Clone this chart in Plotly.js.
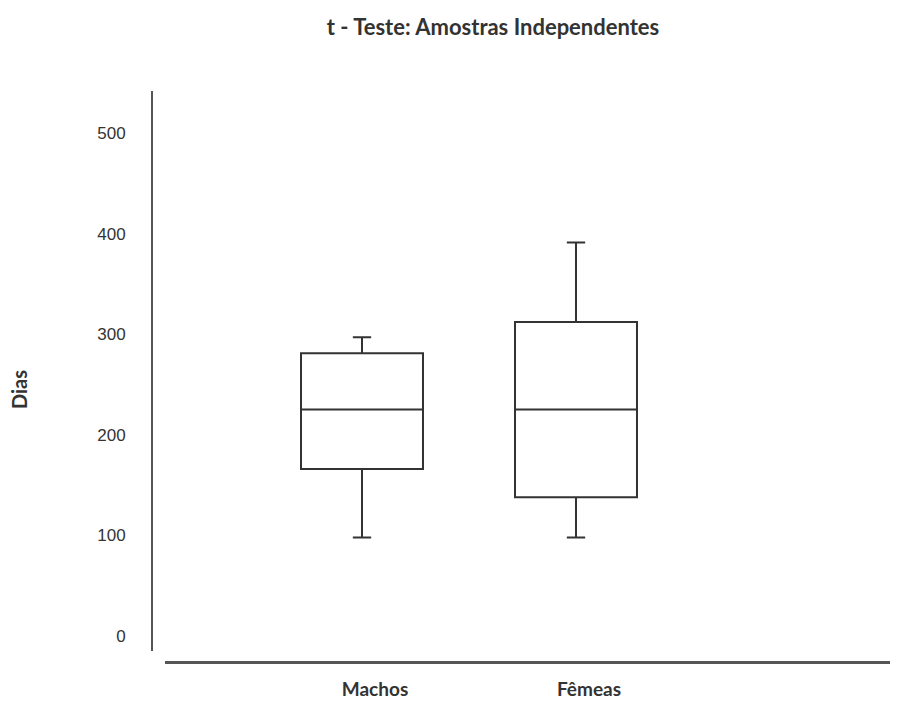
<!DOCTYPE html>
<html>
<head>
<meta charset="utf-8">
<script src="https://cdn.plot.ly/plotly-3.0.1.min.js"></script>
<style>html,body{margin:0;padding:0;background:#fff;}#chart{width:905px;height:702px;}</style>
</head>
<body>
<div id="chart"></div>
<script>
const categories = ['Machos', 'Fêmeas'];
const lowerFence = [98, 98];
const q1 = [166, 138];
const median = [225, 225];
const q3 = [281, 312];
const upperFence = [297, 391];
const yTickVals = [0, 100, 200, 300, 400, 500];
const yTickText = ['0', '100', '200', '300', '400', '500'];

const trace = {
  type: 'box',
  x: categories,
  q1: q1,
  median: median,
  q3: q3,
  lowerfence: lowerFence,
  upperfence: upperFence,
  width: 0.57,
  whiskerwidth: 0.15,
  fillcolor: 'rgba(255,255,255,0)',
  line: {color: '#333333', width: 2},
  hoverinfo: 'skip',
  showlegend: false
};

const layout = {
  width: 905,
  height: 702,
  paper_bgcolor: '#ffffff',
  plot_bgcolor: '#ffffff',
  margin: {l: 152, r: 15, t: 91, b: 40},
  title: {
    text: 't - Teste: Amostras Independentes',
    x: 493 / 905, xref: 'container', xanchor: 'center',
    y: 1 - 27 / 702, yref: 'container', yanchor: 'middle',
    font: {family: 'Lato, Open Sans, sans-serif', size: 22, color: '#333333', weight: 'bold'}
  },
  xaxis: {
    type: 'category',
    domain: [0.0176, 1],
    range: [-0.9206, 2.4673],
    showline: true, linecolor: '#555555', linewidth: 2.5,
    showgrid: false, zeroline: false,
    ticks: '', ticklabelstandoff: 10, ticklabelshift: 13,
    tickfont: {family: 'Lato, Open Sans, sans-serif', size: 19, color: '#333333', weight: 'bold'},
    anchor: 'free', position: 0,
    fixedrange: true
  },
  yaxis: {
    domain: [0.0193, 1],
    range: [-14.9, 541.7],
    tickvals: yTickVals,
    ticktext: yTickText,
    showline: true, linecolor: '#555555', linewidth: 2,
    showgrid: false, zeroline: false,
    ticks: '', ticklabelstandoff: 22,
    tickfont: {family: 'Liberation Sans, Arial, sans-serif', size: 17, color: '#333333'},
    anchor: 'free', position: 0,
    fixedrange: true
  },
  annotations: [{
    text: 'Dias',
    xref: 'paper', yref: 'paper',
    x: (19 - 152) / 738, xanchor: 'center',
    y: (662 - 390) / 571, yanchor: 'middle',
    textangle: -90, showarrow: false,
    font: {family: 'Lato, Open Sans, sans-serif', size: 20, color: '#333333', weight: 'bold'}
  }]
};

Plotly.newPlot('chart', [trace], layout, {displayModeBar: false, staticPlot: true});
</script>
</body>
</html>
